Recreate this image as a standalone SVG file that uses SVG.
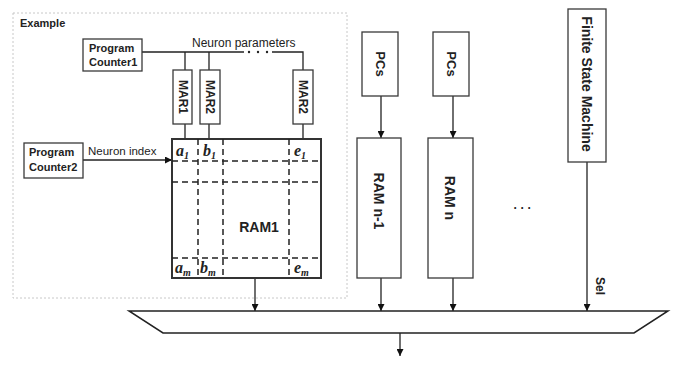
<svg xmlns="http://www.w3.org/2000/svg" width="684" height="369" viewBox="0 0 684 369">
<defs>
<style>
.box{fill:#fff;stroke:#3a3a3a;stroke-width:1.3}
.ram{fill:#fff;stroke:#333;stroke-width:2}
.ln{fill:none;stroke:#222;stroke-width:1.3}
.dash{fill:none;stroke:#222;stroke-width:1.5;stroke-dasharray:6 4}
.dot{fill:#222}
.t{font-family:"Liberation Sans",Arial,sans-serif;fill:#222}
.b{font-weight:bold}
.m{font-family:"Liberation Serif","Times New Roman",serif;font-weight:bold;font-style:italic;font-size:16px;fill:#222}
.s{font-size:10px}
</style>
<marker id="ah" viewBox="0 0 10 10" refX="10" refY="5" markerWidth="7" markerHeight="7" markerUnits="userSpaceOnUse" orient="auto">
<path d="M0,0 L10,5 L0,10 z" fill="#111"/>
</marker>
</defs>
<rect width="684" height="369" fill="#fff"/>
<rect x="13" y="13" width="334" height="285" fill="none" stroke="#c8c8c8" stroke-width="1" stroke-dasharray="2 2"/>
<text class="t b" x="20" y="27" font-size="11">Example</text>

<g id="connectors">
<path class="ln" d="M142,52 H244 M272,52 H303 V70 M185,52 V70 M209,52 V70"/>
<circle class="dot" cx="249" cy="52" r="1.2"/>
<circle class="dot" cx="258" cy="52" r="1.2"/>
<circle class="dot" cx="267" cy="52" r="1.2"/>
<path class="ln" d="M185,124 V139 M209,124 V139 M303,124 V139"/>
<path class="ln" d="M83,160 H172" marker-end="url(#ah)"/>
<path class="ln" d="M255,278 V311" marker-end="url(#ah)"/>
<path class="ln" d="M381,96 V138" marker-end="url(#ah)"/>
<path class="ln" d="M453,96 V138" marker-end="url(#ah)"/>
<path class="ln" d="M381,278 V311" marker-end="url(#ah)"/>
<path class="ln" d="M453,278 V311" marker-end="url(#ah)"/>
<path class="ln" d="M587,162 V311" marker-end="url(#ah)"/>
<path class="ln" d="M400,333 V356" marker-end="url(#ah)"/>
<text class="t" x="192" y="47" font-size="12">Neuron parameters</text>
<text class="t" x="88" y="155" font-size="11.5">Neuron index</text>
<text class="t b" transform="translate(600,286) rotate(90)" font-size="12" text-anchor="middle" dominant-baseline="central">Sel</text>
</g>

<g id="pc1">
<rect class="box" x="83" y="39" width="59" height="32"/>
<text class="t b" x="89" y="52" font-size="11">Program</text>
<text class="t b" x="89" y="66" font-size="11">Counter1</text>
</g>
<g id="pc2">
<rect class="box" x="24" y="143" width="59" height="35"/>
<text class="t b" x="29" y="156" font-size="11">Program</text>
<text class="t b" x="29" y="171" font-size="11">Counter2</text>
</g>
<g id="mar1">
<rect class="box" x="173" y="70" width="19" height="54"/>
<text class="t b" transform="translate(182.5,97) rotate(90)" font-size="12" text-anchor="middle" dominant-baseline="central">MAR1</text>
</g>
<g id="mar2a">
<rect class="box" x="200" y="70" width="20" height="54"/>
<text class="t b" transform="translate(210,97) rotate(90)" font-size="12" text-anchor="middle" dominant-baseline="central">MAR2</text>
</g>
<g id="mar2b">
<rect class="box" x="293" y="70" width="20" height="54"/>
<text class="t b" transform="translate(303,97) rotate(90)" font-size="12" text-anchor="middle" dominant-baseline="central">MAR2</text>
</g>

<g id="ram1">
<rect class="ram" x="172" y="139" width="149" height="139"/>
<path class="dash" d="M172,161 H321 M172,182 H321 M172,258 H321 M198,139 V278 M223,139 V278 M289,139 V278"/>
<text class="m" x="176" y="156">a<tspan class="s" dy="3">1</tspan></text>
<text class="m" x="203" y="156">b<tspan class="s" dy="3">1</tspan></text>
<text class="m" x="294" y="156">e<tspan class="s" dy="3">1</tspan></text>
<text class="m" x="175" y="273">a<tspan class="s" dy="3">m</tspan></text>
<text class="m" x="200" y="273">b<tspan class="s" dy="3">m</tspan></text>
<text class="m" x="294" y="273">e<tspan class="s" dy="3">m</tspan></text>
<text class="t b" x="259" y="232" font-size="14" text-anchor="middle">RAM1</text>
</g>

<g id="pcs1">
<rect class="box" x="362" y="32" width="36" height="64"/>
<text class="t b" transform="translate(380,64) rotate(90)" font-size="13" text-anchor="middle" dominant-baseline="central">PCs</text>
</g>
<g id="pcs2">
<rect class="box" x="433" y="32" width="36" height="64"/>
<text class="t b" transform="translate(451,64) rotate(90)" font-size="13" text-anchor="middle" dominant-baseline="central">PCs</text>
</g>
<g id="ramn1">
<rect class="box" x="357" y="138" width="44" height="140"/>
<text class="t b" transform="translate(379,201) rotate(90)" font-size="14" text-anchor="middle" dominant-baseline="central">RAM n-1</text>
</g>
<g id="ramn">
<rect class="box" x="428" y="138" width="45" height="140"/>
<text class="t b" transform="translate(450,198) rotate(90)" font-size="14" text-anchor="middle" dominant-baseline="central">RAM n</text>
</g>
<g id="fsm">
<rect class="box" x="568" y="9" width="38" height="153"/>
<text class="t b" transform="translate(587,84) rotate(90)" font-size="14" text-anchor="middle" dominant-baseline="central">Finite State Machine</text>
</g>
<g id="dots">
<text class="t b" x="524" y="212" font-size="12" text-anchor="middle" letter-spacing="3">···</text>
</g>
<g id="mux">
<polygon points="129,311 668,311 634,333 163,333" fill="#fff" stroke="#222" stroke-width="1.5"/>
</g>
</svg>
